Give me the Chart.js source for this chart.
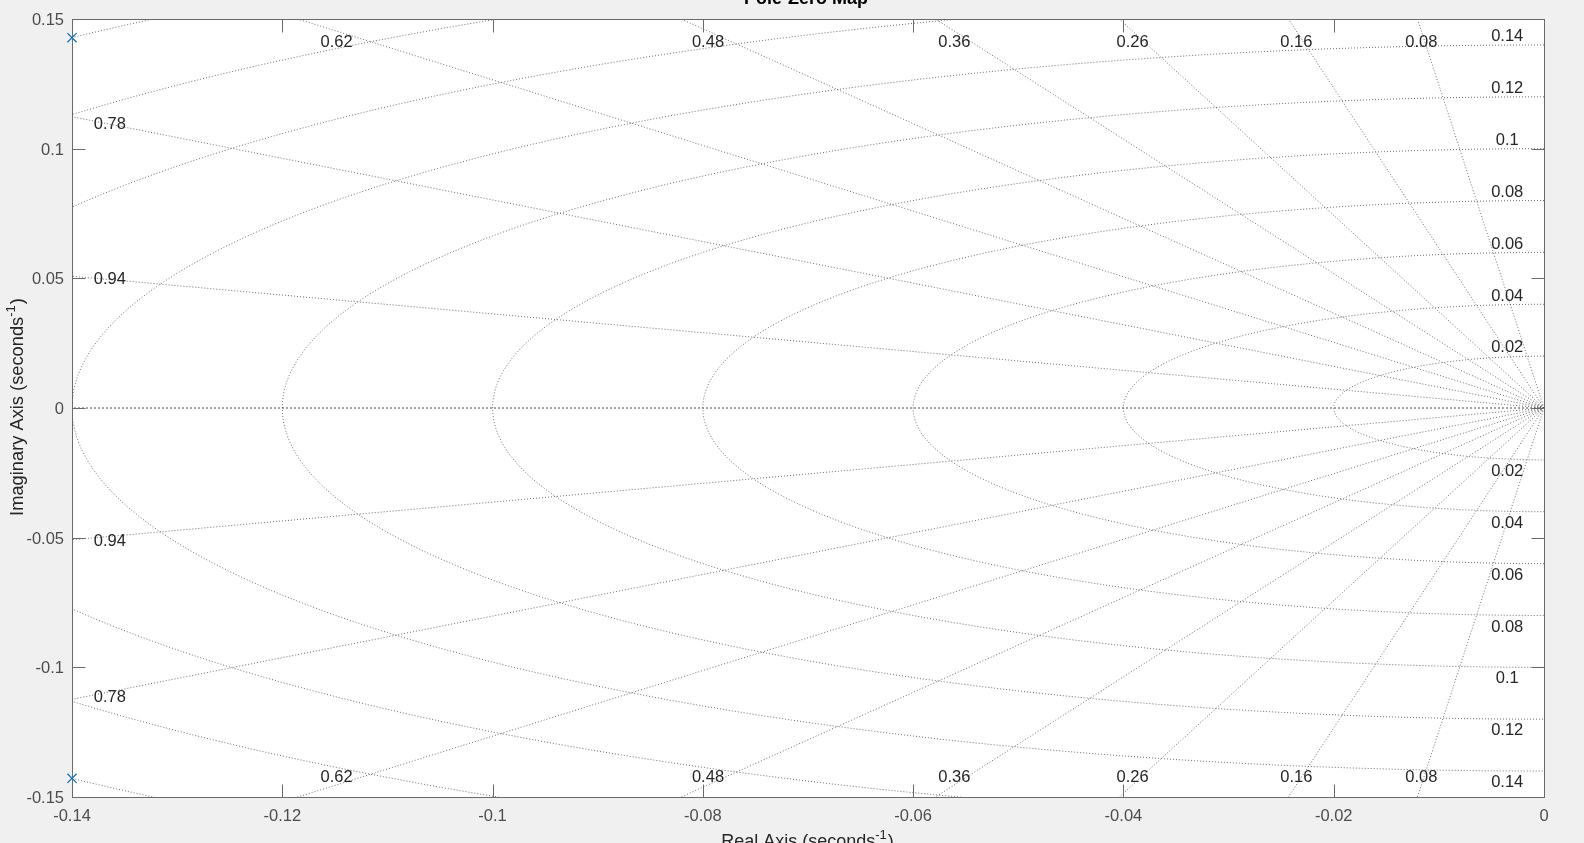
<!DOCTYPE html>
<html><head><meta charset="utf-8">
<script src="https://cdn.jsdelivr.net/npm/chart.js@4"></script>
<style>
html,body{margin:0;padding:0;background:#f0f0f0;overflow:hidden}
#wrap{width:1584px;height:843px;position:relative}
canvas{display:block}
</style></head>
<body><div id="wrap"><canvas id="c" width="1584" height="843"></canvas></div>
<script>
// ---- data ----
const titleText = 'Pole-Zero Map';
const xAxisText = 'Real Axis (seconds';
const yAxisText = 'Imaginary Axis (seconds';
const axisExponent = '-1';
const xTicks = [-0.14, -0.12, -0.1, -0.08, -0.06, -0.04, -0.02, 0];
const yTicks = [-0.15, -0.1, -0.05, 0, 0.05, 0.1, 0.15];
const poleRe = [-0.14, -0.14];
const poleIm = [0.1428, -0.1428];
const dampingRatios = [0.08, 0.16, 0.26, 0.36, 0.48, 0.62, 0.78, 0.94];
const naturalFreqs = [0.02, 0.04, 0.06, 0.08, 0.1, 0.12, 0.14, 0.16, 0.18, 0.2];

// ---- styles ----
const GRID_COLOR = 'rgba(70,70,70,0.78)';
const AXIS_COLOR = '#6a6a6a';
const TICK_TEXT = '#4d4d4d';
const LABEL_TEXT = '#262626';
const FONT = '"Liberation Sans", Arial, Helvetica, sans-serif';

const datasets = [];
datasets.push({
  label: 'poles',
  data: poleRe.map((re, i) => ({x: re, y: poleIm[i]})),
  showLine: false,
  pointStyle: 'crossRot',
  pointRadius: 6.5,
  pointHoverRadius: 6.5,
  borderColor: '#0072BD',
  backgroundColor: '#0072BD',
  borderWidth: 1.2,
  clip: false
});
// damping ratio lines (radial from origin)
const R = 0.3;
dampingRatios.forEach(z => {
  const s = Math.sqrt(1 - z * z);
  [1, -1].forEach(sg => {
    datasets.push({
      data: [{x: 0, y: 0}, {x: -z * R, y: sg * s * R}],
      showLine: true, pointRadius: 0, borderColor: GRID_COLOR, borderWidth: 1,
      borderDash: [1, 2], clip: 0
    });
  });
});
// real axis (zeta = 1)
datasets.push({
  data: [{x: 0, y: 0}, {x: -R, y: 0}],
  showLine: true, pointRadius: 0, borderColor: '#4a4a4a', borderWidth: 1,
  borderDash: [2, 2], clip: 0
});
// natural frequency circles
naturalFreqs.forEach(wn => {
  const pts = [];
  const N = 240;
  for (let k = 0; k <= N; k++) {
    const th = Math.PI / 2 + Math.PI * k / N;
    pts.push({x: wn * Math.cos(th), y: wn * Math.sin(th)});
  }
  datasets.push({
    data: pts, showLine: true, pointRadius: 0, borderColor: GRID_COLOR,
    borderWidth: 1, borderDash: [1, 2], clip: 0, tension: 0
  });
});

const fmt = v => String(Number(Number(v).toFixed(4)));

const framePlugin = {
  id: 'frame',
  beforeDatasetsDraw(chart) {
    const {ctx, chartArea: a} = chart;
    ctx.save();
    ctx.fillStyle = '#ffffff';
    ctx.fillRect(a.left, a.top, a.right - a.left, a.bottom - a.top);
    ctx.restore();
  },
  afterDatasetsDraw(chart) {
    const {ctx, chartArea: a, scales} = chart;
    ctx.save();
    // grid labels
    ctx.beginPath();
    ctx.rect(a.left, a.top, a.right - a.left, a.bottom - a.top);
    ctx.clip();
    ctx.fillStyle = LABEL_TEXT;
    ctx.font = '16.5px ' + FONT;
    ctx.textAlign = 'center';
    ctx.textBaseline = 'middle';
    const xs = scales.x, ys = scales.y;
    const yTop = 0.14136;
    dampingRatios.forEach(z => {
      const t = z / Math.sqrt(1 - z * z);
      let xTopVal = -1.028 * yTop * t;
      [1, -1].forEach(sg => {
        let px, py;
        if (xTopVal > -0.13) {
          px = xs.getPixelForValue(xTopVal);
          py = ys.getPixelForValue(sg * yTop) + (sg > 0 ? 1.5 : 2.6);
        } else {
          const xv = -0.1364;
          px = xs.getPixelForValue(xv);
          py = ys.getPixelForValue(sg * (-xv) / t) + (sg > 0 ? 0 : 5.5);
        }
        ctx.fillText(String(z), px, py);
      });
    });
    naturalFreqs.forEach(wn => {
      if (wn > 0.15) return;
      [1, -1].forEach(sg => {
        const px = xs.getPixelForValue(-0.0035);
        const py = ys.getPixelForValue(sg * wn) + (sg > 0 ? -8.3 : 11.6);
        ctx.fillText(fmt(wn), px, py);
      });
    });
    ctx.restore();

    // frame and inside ticks
    ctx.save();
    ctx.strokeStyle = AXIS_COLOR;
    ctx.lineWidth = 1;
    const L = Math.round(a.left) + 0.5, Rr = Math.round(a.right) + 0.5;
    const T = Math.round(a.top) + 0.5, B = Math.round(a.bottom) + 0.5;
    ctx.strokeRect(L, T, Rr - L, B - T);
    const tl = 13;
    ctx.beginPath();
    xTicks.forEach(v => {
      const p = Math.round(xs.getPixelForValue(v)) + 0.5;
      ctx.moveTo(p, B); ctx.lineTo(p, B - tl);
      ctx.moveTo(p, T); ctx.lineTo(p, T + tl);
    });
    yTicks.forEach(v => {
      const p = Math.round(ys.getPixelForValue(v)) + 0.5;
      ctx.moveTo(L, p); ctx.lineTo(L + tl, p);
      ctx.moveTo(Rr, p); ctx.lineTo(Rr - tl, p);
    });
    ctx.stroke();
    ctx.restore();
  },
  afterDraw(chart) {
    const {ctx, chartArea: a} = chart;
    const cx = (a.left + a.right) / 2;
    ctx.save();
    ctx.fillStyle = '#000';
    ctx.font = 'bold 18px ' + FONT;
    ctx.textAlign = 'center';
    ctx.textBaseline = 'alphabetic';
    ctx.fillText(titleText, cx - 2, 4);
    ctx.fillStyle = LABEL_TEXT;
    const drawSup = (base, x, y, size) => {
      const sup = Math.round(size * 0.72);
      ctx.font = size + 'px ' + FONT;
      const w1 = ctx.measureText(base).width;
      const w3 = ctx.measureText(')').width;
      ctx.font = sup + 'px ' + FONT;
      const w2 = ctx.measureText(axisExponent).width;
      const total = w1 + w2 + w3;
      let s = x - total / 2;
      ctx.textAlign = 'left';
      ctx.font = size + 'px ' + FONT;
      ctx.fillText(base, s, y);
      ctx.font = sup + 'px ' + FONT;
      ctx.fillText(axisExponent, s + w1, y - size * 0.45);
      ctx.font = size + 'px ' + FONT;
      ctx.fillText(')', s + w1 + w2 + 1, y);
    };
    drawSup(xAxisText, cx - 1, 847, 18);
    ctx.save();
    ctx.translate(23, (a.top + a.bottom) / 2 - 0.5);
    ctx.rotate(-Math.PI / 2);
    drawSup(yAxisText, 0, 0, 18.3);
    ctx.restore();
    ctx.restore();
  }
};

new Chart(document.getElementById('c'), {
  type: 'scatter',
  data: {datasets},
  options: {
    responsive: false,
    animation: false,
    devicePixelRatio: 1,
    events: [],
    layout: {padding: {left: 0, top: 19, right: 40, bottom: 0}},
    plugins: {legend: {display: false}, title: {display: false}, tooltip: {enabled: false}},
    scales: {
      x: {
        type: 'linear', min: -0.14, max: 0,
        grid: {display: false, drawTicks: false},
        border: {display: false},
        afterBuildTicks: s => { s.ticks = xTicks.map(v => ({value: v})); },
        afterFit: s => { s.height = 46; },
        ticks: {
          autoSkip: false, maxRotation: 0, padding: 10, color: TICK_TEXT,
          font: {family: FONT, size: 16.5},
          callback: v => fmt(v)
        }
      },
      y: {
        type: 'linear', min: -0.15, max: 0.15,
        grid: {display: false, drawTicks: false},
        border: {display: false},
        afterBuildTicks: s => { s.ticks = yTicks.map(v => ({value: v})); },
        afterFit: s => { s.width = 72; },
        ticks: {
          autoSkip: false, padding: 8, color: TICK_TEXT, labelOffset: 1.5,
          font: {family: FONT, size: 16.5},
          callback: v => fmt(v)
        }
      }
    }
  },
  plugins: [framePlugin]
});
</script>
</body></html>
